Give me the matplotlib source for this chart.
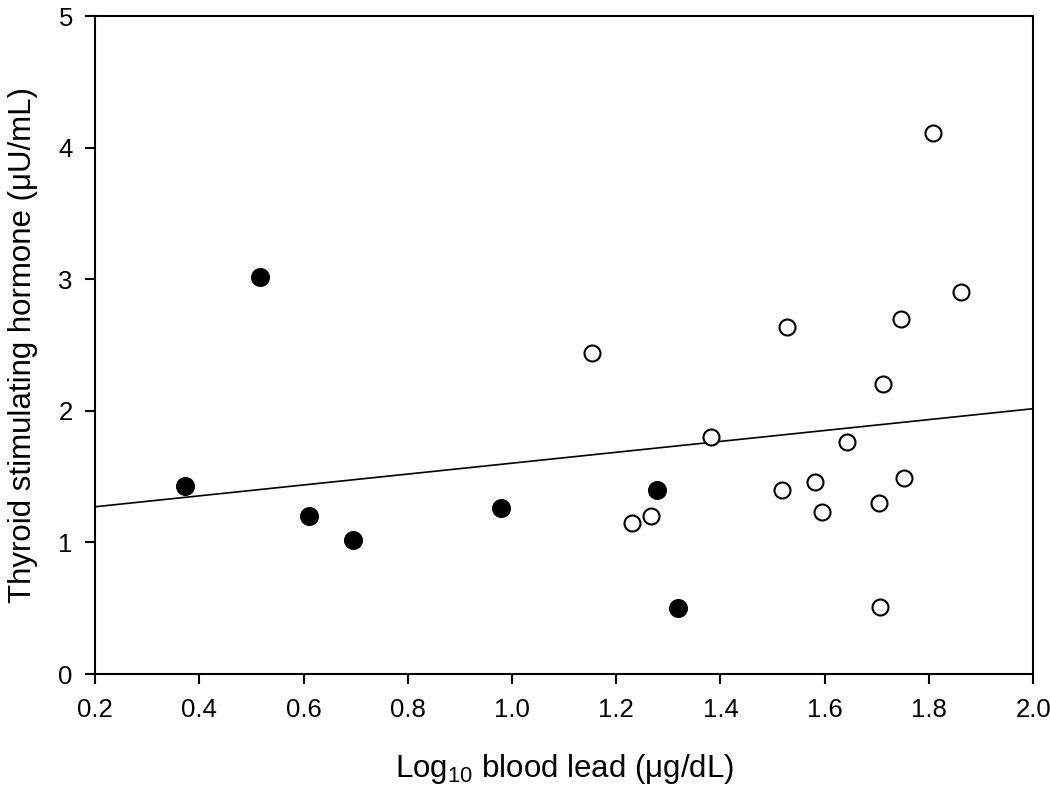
import matplotlib
matplotlib.use("Agg")
import matplotlib.pyplot as plt
import numpy as np

# filled circles
low_x = [0.373, 0.516, 0.611, 0.695, 0.978, 1.279, 1.319]
low_y = [1.43, 3.02, 1.20, 1.02, 1.26, 1.40, 0.50]

# open circles
high_x = [1.153, 1.231, 1.267, 1.381, 1.519, 1.527, 1.581, 1.594, 1.642,
          1.705, 1.706, 1.712, 1.746, 1.753, 1.808, 1.862]
high_y = [2.44, 1.15, 1.20, 1.80, 1.40, 2.64, 1.46, 1.23, 1.76,
          1.30, 0.51, 2.20, 2.70, 1.49, 4.11, 2.90]

# regression line
fit_intercept = 1.188
fit_slope = 0.414
fit_range = [0.2, 2.0]

x_ticks = [0.2, 0.4, 0.6, 0.8, 1.0, 1.2, 1.4, 1.6, 1.8, 2.0]
x_tick_labels = ["0.2", "0.4", "0.6", "0.8", "1.0", "1.2", "1.4", "1.6", "1.8", "2.0"]
y_ticks = [0, 1, 2, 3, 4, 5]

plt.rcParams["font.family"] = ["Liberation Sans", "DejaVu Sans"]

fig = plt.figure(figsize=(10.5, 8), dpi=100)
ax = fig.add_axes([0.0905, 0.1575, 0.8935, 0.8225])

xs = np.array(fit_range)
ax.plot(xs, fit_intercept + fit_slope * xs, color="black", linewidth=1.2, zorder=2)

ax.plot(low_x, low_y, "o", color="black", markersize=12.5, markeredgewidth=1.2,
        linestyle="none", zorder=3)
ax.plot(high_x, high_y, "o", markerfacecolor="white", markeredgecolor="black",
        markersize=11.5, markeredgewidth=1.5, linestyle="none", zorder=3)

ax.set_xlim(0.2, 2.0)
ax.set_ylim(0, 5)
ax.set_xticks(x_ticks)
ax.set_xticklabels(x_tick_labels)
ax.set_yticks(y_ticks)

ax.tick_params(axis="both", direction="out", length=7, width=1.5,
               labelsize=18.5, top=False, right=False)
ax.tick_params(axis="x", pad=10)
ax.tick_params(axis="y", pad=9)
for sp in ax.spines.values():
    sp.set_linewidth(1.5)

ax.set_xlabel(r"Log$_{\mathregular{10}}$ blood lead (μg/dL)", fontsize=22.5, labelpad=22)
ax.set_ylabel("Thyroid stimulating hormone (μU/mL)", fontsize=22.5, labelpad=15)

fig.savefig("out.png", dpi=100)
